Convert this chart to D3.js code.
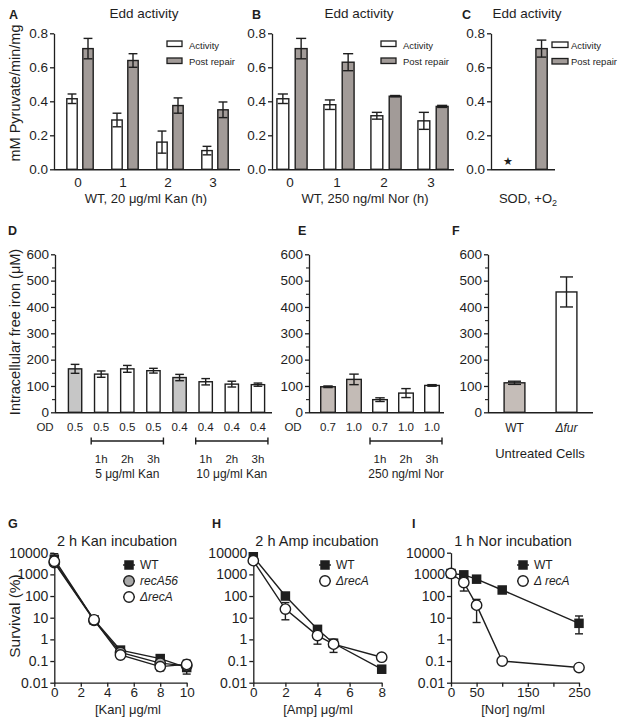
<!DOCTYPE html>
<html><head><meta charset="utf-8">
<script src="https://cdn.jsdelivr.net/npm/d3@7"></script>
<style>body{margin:0;background:#fff}</style>
</head><body>
<svg id="c" width="624" height="727" xmlns="http://www.w3.org/2000/svg"></svg>
<script>
// ---------------- DATA ----------------
// Panels A–C: Edd activity (mM pyruvate/min/mg)
const eddHoursA = ["0", "1", "2", "3"];
const eddActivityA = [0.415, 0.29, 0.16, 0.11];
const eddActivityErrA = [0.028, 0.04, 0.065, 0.025];
const eddRepairA = [0.71, 0.64, 0.375, 0.35];
const eddRepairErrA = [0.06, 0.04, 0.045, 0.046];

const eddHoursB = ["0", "1", "2", "3"];
const eddActivityB = [0.415, 0.38, 0.315, 0.285];
const eddActivityErrB = [0.028, 0.028, 0.02, 0.05];
const eddRepairB = [0.71, 0.63, 0.43, 0.37];
const eddRepairErrB = [0.06, 0.05, 0.004, 0.006];

const eddSeriesC = ["Activity", "Post repair"];
const eddValuesC = [0, 0.71];          // activity not detectable (star)
const eddErrC = [0, 0.05];
const eddTicks = [0, 0.2, 0.4, 0.6, 0.8];
const eddLegend = ["Activity", "Post repair"];

// Panels D–F: intracellular free iron (µM)
const ironTicks = [0, 100, 200, 300, 400, 500, 600];
const ironMinorTicks = [50, 150, 250, 350, 450, 550];

const odD = ["0.5", "0.5", "0.5", "0.5", "0.4", "0.4", "0.4", "0.4"];
const timeD = ["", "1h", "2h", "3h", "", "1h", "2h", "3h"];
const ironD = [165, 145, 165, 158, 132, 116, 107, 105];
const ironErrD = [17, 12, 13, 9, 12, 12, 11, 6];
const untreatedD = [true, false, false, false, true, false, false, false];
const groupsD = [{first: 1, last: 3, label: "5 μg/ml Kan"}, {first: 5, last: 7, label: "10 μg/ml Kan"}];

const odE = ["0.7", "1.0", "0.7", "1.0", "1.0"];
const timeE = ["", "", "1h", "2h", "3h"];
const ironE = [97, 125, 48, 73, 102];
const ironErrE = [3, 20, 7, 17, 3];
const untreatedE = [true, true, false, false, false];
const groupsE = [{first: 2, last: 4, label: "250 ng/ml Nor"}];

const strainsF = ["WT", "Δfur"];
const ironF = [112, 457];
const ironErrF = [6, 57];

// Panels G–I: survival (%)
const logTicks = [0.01, 0.1, 1, 10, 100, 1000, 10000];

const kanDose = [0, 3, 5, 8, 10];
const kanWT = [5000, 8, 0.32, 0.13, 0.05];
const kanWTLo = [3000, null, 0.25, 0.09, 0.025];
const kanWTHi = [9000, null, 0.4, 0.16, 0.07];
const kanRecA56 = [3500, 7.5, 0.25, 0.08, 0.06];
const kanRecA56Lo = [null, null, null, 0.05, null];
const kanRecA56Hi = [null, null, null, 0.1, null];
const kanDeltaRecA = [4000, 8, 0.19, 0.055, 0.07];
const kanDeltaRecALo = [null, null, null, 0.035, 0.04];
const kanDeltaRecAHi = [null, null, null, 0.075, 0.11];

const ampDose = [0, 2, 4, 5, 8];
const ampWT = [6500, 100, 2.9, 0.66, 0.042];
const ampWTLo = [5000, null, null, null, 0.028];
const ampWTHi = [8500, null, null, null, 0.055];
const ampDeltaRecA = [4300, 25, 1.5, 0.6, 0.15];
const ampDeltaRecALo = [null, 8, 0.6, 0.25, null];
const ampDeltaRecAHi = [null, 50, 3, 1.0, null];

const norDose = [0, 25, 50, 100, 250];
const norWT = [1100, 950, 600, 190, 5.5];
const norWTLo = [null, null, null, null, 1.8];
const norWTHi = [null, null, null, null, 12];
const norDeltaRecA = [1100, 420, 38, 0.1, 0.05];
const norDeltaRecALo = [null, 170, 6, null, null];
const norDeltaRecAHi = [null, 800, 70, null, null];

// ---------------- DRAWING ----------------
const FONT = '"Liberation Sans", Arial, sans-serif';
const ink = "#1e1e1e";
const svg = d3.select("#c");
svg.append("rect").attr("width", 624).attr("height", 727).attr("fill", "#fff");

function txt(x, y, s, o = {}) {
  const t = svg.append("text").attr("x", x).attr("y", y).text(s)
    .attr("font-family", FONT).attr("font-size", o.fs || 13).attr("fill", ink)
    .attr("text-anchor", o.anchor || "middle");
  if (o.bold) t.attr("font-weight", "bold");
  if (o.italic) t.attr("font-style", "italic");
  return t;
}
function vtxt(x, y, s, fs) {
  return svg.append("text").attr("transform", `translate(${x},${y}) rotate(-90)`)
    .attr("text-anchor", "middle").attr("dy", "0.35em").attr("font-family", FONT)
    .attr("font-size", fs).attr("fill", ink).text(s);
}
function yAxis(y, x, ticks, fmt, fs, minor) {
  const g = svg.append("g").attr("transform", `translate(${x},0)`).attr("font-family", FONT);
  g.call(d3.axisLeft(y).tickValues(ticks).tickFormat(fmt).tickSize(4).tickSizeOuter(0).tickPadding(2));
  g.select(".domain").attr("stroke", ink).attr("stroke-width", 1.3);
  g.selectAll(".tick line").attr("stroke", ink).attr("stroke-width", 1.3);
  g.selectAll(".tick text").attr("font-size", fs).attr("fill", ink);
  if (minor) {
    g.selectAll(".minor").data(minor).join("line")
      .attr("x1", -3).attr("x2", 0).attr("y1", d => y(d) + 0.5).attr("y2", d => y(d) + 0.5)
      .attr("stroke", ink).attr("stroke-width", 1.1);
  }
  return g;
}
function hline(x1, x2, y) {
  svg.append("line").attr("x1", x1).attr("x2", x2).attr("y1", y).attr("y2", y)
    .attr("stroke", ink).attr("stroke-width", 1.4);
}
function errBar(cx, yTop, yBot, cap) {
  const g = svg.append("g").attr("stroke", ink).attr("stroke-width", 1.4);
  g.append("line").attr("x1", cx).attr("x2", cx).attr("y1", yTop).attr("y2", yBot);
  g.append("line").attr("x1", cx - cap / 2).attr("x2", cx + cap / 2).attr("y1", yTop).attr("y2", yTop);
  g.append("line").attr("x1", cx - cap / 2).attr("x2", cx + cap / 2).attr("y1", yBot).attr("y2", yBot);
}

// ---- A–C ----
const actFill = "#ffffff", repFill = "#a29b98";
const yEdd = d3.scaleLinear().domain([0, 0.8]).range([169.3, 33.3]);

function eddPanel(o) {
  yAxis(yEdd, o.axisX, eddTicks, d3.format(".1f"), 13.5);
  hline(o.axisX, o.axisEnd, yEdd(0) + 0.5);
  const gx = d3.scaleBand().domain(o.groups).range(o.range);
  const sx = d3.scaleBand().domain(["act", "rep"]).range([-o.half, o.half]).paddingInner(0.35).paddingOuter(0.05);
  const bw = sx.bandwidth();
  o.groups.forEach((g, i) => {
    const c = gx(g) + gx.bandwidth() / 2;
    [["act", o.act[i], o.actErr[i], actFill], ["rep", o.rep[i], o.repErr[i], repFill]].forEach(([k, v, e, f]) => {
      const x0 = c + sx(k);
      svg.append("rect").attr("x", x0).attr("y", yEdd(v)).attr("width", bw).attr("height", yEdd(0) - yEdd(v))
        .attr("fill", f).attr("stroke", ink).attr("stroke-width", 1.4);
      errBar(x0 + bw / 2, yEdd(v + e), yEdd(v - e), bw * 0.85);
    });
    txt(c - 2, 186.5, g, {fs: 13.5});
  });
  eddLegend.forEach((s, i) => {
    svg.append("rect").attr("x", o.legX).attr("y", 41 + i * 17).attr("width", 15).attr("height", 5.5)
      .attr("fill", i ? repFill : actFill).attr("stroke", ink).attr("stroke-width", 1.3);
    txt(o.legX + 22, 48.5 + i * 16.5, s, {fs: 9.5, anchor: "start"});
  });
  txt(o.titleX, 18, "Edd activity", {fs: 13.5});
  txt(o.letterX, 19, o.letter, {fs: 12.5, bold: true, anchor: "start"});
  txt(o.xlabX, 203, o.xlab, {fs: 13});
}
eddPanel({axisX: 54, axisEnd: 240, groups: eddHoursA, range: [57.5, 237.5], half: 14,
  act: eddActivityA, actErr: eddActivityErrA, rep: eddRepairA, repErr: eddRepairErrA,
  legX: 167, titleX: 144, letter: "A", letterX: 9, xlabX: 146, xlab: "WT, 20 μg/ml Kan (h)"});
eddPanel({axisX: 272, axisEnd: 454, groups: eddHoursB, range: [268.5, 456.5], half: 16,
  act: eddActivityB, actErr: eddActivityErrB, rep: eddRepairB, repErr: eddRepairErrB,
  legX: 381, titleX: 359, letter: "B", letterX: 252, xlabX: 365, xlab: "WT, 250 ng/ml Nor (h)"});
vtxt(15, 93, "mM Pyruvate/min/mg", 14.5);

// Panel C
(function () {
  yAxis(yEdd, 491, eddTicks, d3.format(".1f"), 13.5);
  hline(491, 555, yEdd(0) + 0.5);
  const xc = d3.scaleBand().domain(eddSeriesC).range([491, 558.4]).paddingInner(0.665).paddingOuter(0.3325);
  const bw = xc.bandwidth();
  eddSeriesC.forEach((s, i) => {
    const v = eddValuesC[i];
    if (v > 0) {
      svg.append("rect").attr("x", xc(s)).attr("y", yEdd(v)).attr("width", bw).attr("height", yEdd(0) - yEdd(v))
        .attr("fill", i ? repFill : actFill).attr("stroke", ink).attr("stroke-width", 1.4);
      errBar(xc(s) + bw / 2, yEdd(v + eddErrC[i]), yEdd(v - eddErrC[i]), bw * 0.85);
    } else {
      txt(xc(s) + bw / 2, yEdd(0) - 4, "★", {fs: 11});
    }
  });
  eddLegend.forEach((s, i) => {
    svg.append("rect").attr("x", 552).attr("y", 42 + i * 16.5).attr("width", 16).attr("height", 5.5)
      .attr("fill", i ? repFill : actFill).attr("stroke", ink).attr("stroke-width", 1.3);
    txt(571, 48.5 + i * 16.5, s, {fs: 9.5, anchor: "start"});
  });
  txt(527, 18, "Edd activity", {fs: 13.5});
  txt(462, 19, "C", {fs: 12.5, bold: true, anchor: "start"});
  const t = txt(528, 203, "SOD, +O", {fs: 13});
  t.append("tspan").attr("font-size", 9).attr("dy", 3).text("2");
})();

// ---- D–F ----
const yIron = d3.scaleLinear().domain([0, 600]).range([412.3, 254.3]);
function ironPanel(o) {
  yAxis(yIron, o.axisX, ironTicks, d3.format("d"), 13.5, ironMinorTicks);
  hline(o.axisX, o.axisEnd, yIron(0) + 0.5);
  const idx = o.values.map((_, i) => i);
  const xb = d3.scaleBand().domain(idx).range(o.range).paddingInner(o.pad).paddingOuter(o.pad / 2);
  const bw = xb.bandwidth();
  const cx = i => xb(i) + bw / 2;
  idx.forEach(i => {
    const v = o.values[i];
    svg.append("rect").attr("x", xb(i)).attr("y", yIron(v)).attr("width", bw).attr("height", yIron(0) - yIron(v))
      .attr("fill", o.fill(i)).attr("stroke", ink).attr("stroke-width", 1.4);
    errBar(cx(i), yIron(v + o.errs[i]), yIron(v - o.errs[i]), o.cap || bw * 0.65);
    if (o.od) txt(cx(i), 431, o.od[i], {fs: 11.5});
    if (o.time && o.time[i]) txt(cx(i), 463, o.time[i], {fs: 11.5});
  });
  if (o.od) txt(o.odX, 431, "OD", {fs: 11.5});
  (o.groups || []).forEach(gr => {
    const a = cx(gr.first) - 10, b = cx(gr.last) + 10;
    hline(a, b, 441);
    [a, b].forEach(x => svg.append("line").attr("x1", x).attr("x2", x).attr("y1", 437.5).attr("y2", 444.5)
      .attr("stroke", ink).attr("stroke-width", 1.4));
    txt((a + b) / 2, 478, gr.label, {fs: 12});
  });
  return {cx};
}
ironPanel({axisX: 55, axisEnd: 272, range: [62, 271], pad: 0.49, values: ironD, errs: ironErrD,
  fill: i => untreatedD[i] ? "#c6c6c6" : "#fff", od: odD, odX: 45, time: timeD, groups: groupsD});
ironPanel({axisX: 309, axisEnd: 444, range: [315, 445], pad: 0.44, values: ironE, errs: ironErrE,
  fill: i => untreatedE[i] ? "#c3bbb6" : "#fff", od: odE, odX: 293, time: timeE, groups: groupsE});
const fPanel = ironPanel({axisX: 488, axisEnd: 593, range: [488.5, 592.5], pad: 0.6, values: ironF, errs: ironErrF,
  fill: i => i === 0 ? "#c5bdb8" : "#fff", cap: 13});
txt(fPanel.cx(0), 432, strainsF[0], {fs: 12});
txt(fPanel.cx(1), 432, strainsF[1], {fs: 12, italic: true});
txt(540, 458, "Untreated Cells", {fs: 13});
vtxt(15, 332, "Intracellular free iron (μM)", 14.5);
txt(8, 235, "D", {fs: 12.5, bold: true, anchor: "start"});
txt(298, 235, "E", {fs: 12.5, bold: true, anchor: "start"});
txt(452, 235, "F", {fs: 12.5, bold: true, anchor: "start"});

// ---- G–I ----
const ySurv = d3.scaleLog().domain([0.01, 10000]).range([682.7, 552.7]);
function survPanel(o) {
  const x = d3.scaleLinear().domain(o.xDomain).range(o.xRange);
  yAxis(ySurv, o.xRange[0], logTicks, d => String(d), 14);
  const gx = svg.append("g").attr("transform", `translate(0,${ySurv(0.01)})`).attr("font-family", FONT);
  gx.call(d3.axisBottom(x).tickValues(o.xTicks).tickFormat(d => o.xLabels.includes(d) ? d : "")
    .tickSize(4).tickSizeOuter(0).tickPadding(1));
  gx.select(".domain").attr("stroke", ink).attr("stroke-width", 1.3);
  gx.selectAll(".tick line").attr("stroke", ink).attr("stroke-width", 1.3);
  gx.selectAll(".tick text").attr("font-size", 13.5).attr("fill", ink);
  const line = d3.line().x(d => x(d[0])).y(d => ySurv(d[1]));
  o.series.forEach(s => {
    s.vals.forEach((v, i) => {
      if (s.lo && s.lo[i] != null) errBar(x(o.dose[i]), ySurv(s.hi[i]), ySurv(s.lo[i]), 8);
    });
  });
  o.series.forEach(s => {
    svg.append("path").attr("d", line(o.dose.map((d, i) => [d, s.vals[i]])))
      .attr("fill", "none").attr("stroke", ink).attr("stroke-width", 1.4);
  });
  function marker(cx, cy, s) {
    if (s.shape === "square") {
      svg.append("rect").attr("x", cx - 4.75).attr("y", cy - 4.75).attr("width", 9.5).attr("height", 9.5).attr("fill", ink);
    } else {
      svg.append("circle").attr("cx", cx).attr("cy", cy).attr("r", 5.2).attr("fill", s.fill)
        .attr("stroke", ink).attr("stroke-width", 1.4);
    }
  }
  o.series.forEach(s => s.vals.forEach((v, i) => marker(x(o.dose[i]), ySurv(v), s)));
  o.series.forEach((s, i) => {
    const yy = 565 + i * 16;
    svg.append("line").attr("x1", o.legX - 6).attr("x2", o.legX + 6).attr("y1", yy).attr("y2", yy)
      .attr("stroke", ink).attr("stroke-width", 1.4);
    marker(o.legX, yy, s);
    txt(o.legX + 11, yy + 4.3, s.name, {fs: 12, anchor: "start", italic: s.italic});
  });
  txt(o.titleX, 546, o.title, {fs: 14.5});
  txt(o.letterX, 528, o.letter, {fs: 12.5, bold: true, anchor: "start"});
  txt(o.xlabX, 714, o.xlab, {fs: 13});
}
survPanel({xDomain: [0, 10], xRange: [54.3, 186.7], xTicks: [0, 2, 4, 6, 8, 10], xLabels: [0, 2, 4, 6, 8, 10],
  dose: kanDose, legX: 129, title: "2 h Kan incubation", titleX: 117, letter: "G", letterX: 8,
  xlab: "[Kan] μg/ml", xlabX: 128,
  series: [
    {name: "WT", vals: kanWT, lo: kanWTLo, hi: kanWTHi, shape: "square"},
    {name: "recA56", vals: kanRecA56, lo: kanRecA56Lo, hi: kanRecA56Hi, shape: "circle", fill: "#a8a8a8", italic: true},
    {name: "ΔrecA", vals: kanDeltaRecA, lo: kanDeltaRecALo, hi: kanDeltaRecAHi, shape: "circle", fill: "#fff", italic: true}
  ]});
survPanel({xDomain: [0, 8], xRange: [253.3, 381.7], xTicks: [0, 2, 4, 6, 8], xLabels: [0, 2, 4, 6, 8],
  dose: ampDose, legX: 325, title: "2 h Amp incubation", titleX: 317, letter: "H", letterX: 212,
  xlab: "[Amp] μg/ml", xlabX: 318,
  series: [
    {name: "WT", vals: ampWT, lo: ampWTLo, hi: ampWTHi, shape: "square"},
    {name: "ΔrecA", vals: ampDeltaRecA, lo: ampDeltaRecALo, hi: ampDeltaRecAHi, shape: "circle", fill: "#fff", italic: true}
  ]});
survPanel({xDomain: [0, 250], xRange: [451, 579], xTicks: [0, 50, 100, 150, 200, 250], xLabels: [0, 50, 150, 250],
  dose: norDose, legX: 523, title: "1 h Nor incubation", titleX: 513, letter: "I", letterX: 412,
  xlab: "[Nor] ng/ml", xlabX: 513,
  series: [
    {name: "WT", vals: norWT, lo: norWTLo, hi: norWTHi, shape: "square"},
    {name: "Δ recA", vals: norDeltaRecA, lo: norDeltaRecALo, hi: norDeltaRecAHi, shape: "circle", fill: "#fff", italic: true}
  ]});
vtxt(15, 616, "Survival (%)", 15.5);
</script>
</body></html>
